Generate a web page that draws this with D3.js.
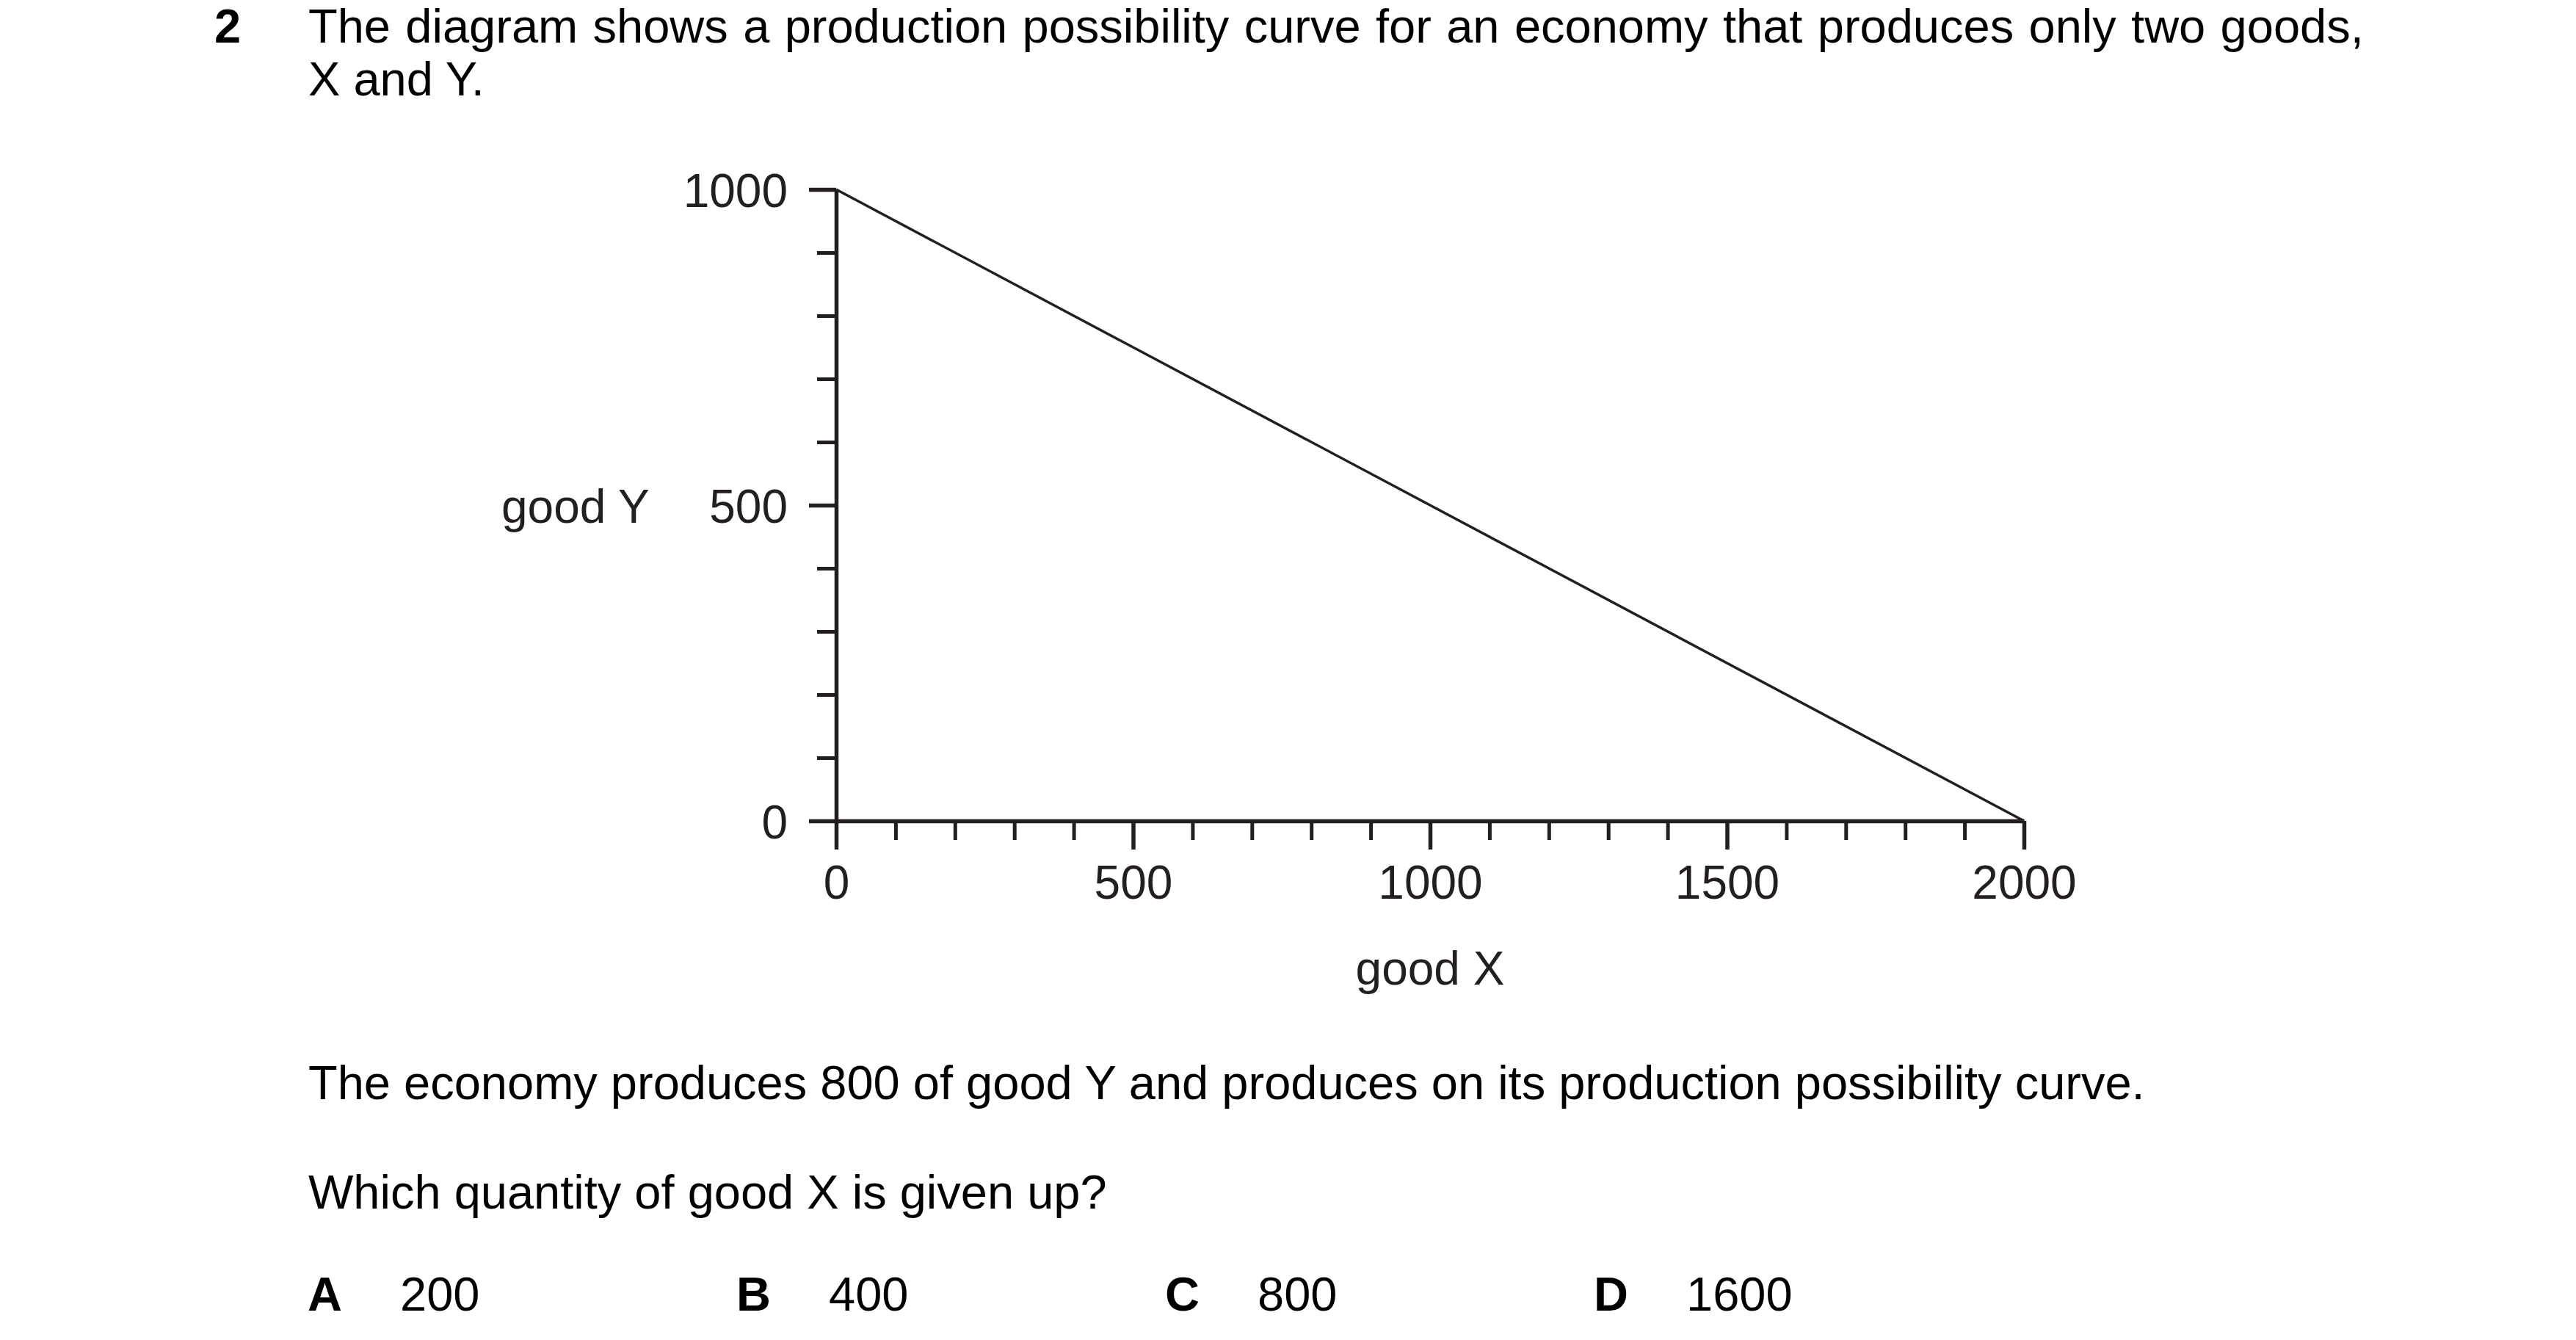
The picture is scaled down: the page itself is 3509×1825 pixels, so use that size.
<!DOCTYPE html>
<html>
<head>
<meta charset="utf-8">
<script src="https://cdn.jsdelivr.net/npm/d3@7"></script>
<style>
  html, body { margin: 0; padding: 0; background: #ffffff; }
  svg { display: block; }
  text { font-family: "Liberation Sans", Arial, Helvetica, sans-serif; }
</style>
</head>
<body>
<script>
// ---------- data ----------
const questionNumber = "2";
const questionLines = [
  "The diagram shows a production possibility curve for an economy that produces only two goods,",
  "X and Y."
];
const bodyLines = [
  "The economy produces 800 of good Y and produces on its production possibility curve.",
  "Which quantity of good X is given up?"
];
const optionLetters = ["A", "B", "C", "D"];
const optionValues = ["200", "400", "800", "1600"];

const xDomain = [0, 2000];
const yDomain = [0, 1000];
const xMajorTicks = [0, 500, 1000, 1500, 2000];
const xMinorTicks = [100, 200, 300, 400, 600, 700, 800, 900, 1100, 1200, 1300, 1400, 1600, 1700, 1800, 1900];
const yMajorTicks = [0, 500, 1000];
const yMinorTicks = [100, 200, 300, 400, 600, 700, 800, 900];
const xLabel = "good X";
const yLabel = "good Y";

// production possibility curve end points
const ppcGoodX = [0, 2000];
const ppcGoodY = [1000, 0];

// ---------- layout ----------
const W = 3509, H = 1825;
const FS = 64;      // chart labels
const QFS = 65;     // question text
const ink = "#231f20";
const textInk = "#000000";

const svg = d3.select("body").append("svg")
  .attr("width", W).attr("height", H)
  .attr("viewBox", `0 0 ${W} ${H}`);

svg.append("rect").attr("width", W).attr("height", H).attr("fill", "#fff");

// question header
svg.append("text")
  .attr("x", 292).attr("y", 58)
  .attr("font-size", QFS).attr("font-weight", "bold").attr("fill", textInk)
  .text(questionNumber);

svg.selectAll("text.qline").data(questionLines).join("text")
  .attr("class", "qline")
  .attr("x", 420).attr("y", (d, i) => 58 + i * 72)
  .attr("font-size", QFS).attr("fill", textInk)
  .attr("word-spacing", (d, i) => i === 0 ? 2.3 : 0)
  .text(d => d);

// scales
const x = d3.scaleLinear().domain(xDomain).range([1139, 2757]);
const y = d3.scaleLinear().domain(yDomain).range([1118, 258]);

const chart = svg.append("g");

function styleAxis(g, sw) {
  g.selectAll("path.domain").attr("stroke", ink).attr("stroke-width", sw);
  g.selectAll(".tick line").attr("stroke", ink).attr("stroke-width", sw);
  g.selectAll(".tick text")
    .attr("fill", ink)
    .attr("font-size", FS)
    .attr("font-family", '"Liberation Sans", Arial, sans-serif');
}

// minor x ticks
const gxMinor = chart.append("g")
  .attr("transform", `translate(0,${y(0)})`)
  .call(d3.axisBottom(x).tickValues(xMinorTicks).tickSize(26).tickSizeOuter(0).tickFormat(""));
gxMinor.select("path.domain").remove();
styleAxis(gxMinor, 5);

// minor y ticks
const gyMinor = chart.append("g")
  .attr("transform", `translate(${x(0)},0)`)
  .call(d3.axisLeft(y).tickValues(yMinorTicks).tickSize(26).tickSizeOuter(0).tickFormat(""));
gyMinor.select("path.domain").remove();
styleAxis(gyMinor, 5);

// major x axis
const gx = chart.append("g")
  .attr("transform", `translate(0,${y(0)})`)
  .call(d3.axisBottom(x).tickValues(xMajorTicks).tickSize(39).tickSizeOuter(0).tickPadding(22).tickFormat(d3.format("d")));
styleAxis(gx, 5.5);

// major y axis
const gy = chart.append("g")
  .attr("transform", `translate(${x(0)},0)`)
  .call(d3.axisLeft(y).tickValues(yMajorTicks).tickSize(37).tickSizeOuter(0).tickPadding(29).tickFormat(d3.format("d")));
styleAxis(gy, 5.5);
gy.selectAll(".tick text").attr("dy", "0.37em");

// PPC line
const ppcData = ppcGoodX.map((v, i) => ({ gx: v, gy: ppcGoodY[i] }));
chart.append("path")
  .datum(ppcData)
  .attr("fill", "none")
  .attr("stroke", ink)
  .attr("stroke-width", 3.5)
  .attr("d", d3.line().x(d => x(d.gx)).y(d => y(d.gy)));

// axis titles
chart.append("text")
  .attr("x", x(1000)).attr("y", 1341)
  .attr("text-anchor", "middle")
  .attr("font-size", FS).attr("fill", ink)
  .text(xLabel);

chart.append("text")
  .attr("x", 683).attr("y", y(500)).attr("dy", "0.37em")
  .attr("font-size", FS).attr("fill", ink)
  .text(yLabel);

// body text
svg.selectAll("text.bline").data(bodyLines).join("text")
  .attr("class", "bline")
  .attr("x", 420).attr("y", (d, i) => 1497 + i * 149)
  .attr("font-size", QFS).attr("fill", textInk)
  .text(d => d);

// options
const opt = svg.selectAll("g.opt").data(optionLetters).join("g")
  .attr("class", "opt")
  .attr("transform", (d, i) => `translate(${419 + i * 584},1785)`);
opt.append("text")
  .attr("font-size", QFS).attr("font-weight", "bold").attr("fill", textInk)
  .text(d => d);
opt.append("text")
  .attr("x", 126)
  .attr("font-size", QFS).attr("fill", textInk)
  .text((d, i) => optionValues[i]);
</script>
</body>
</html>
